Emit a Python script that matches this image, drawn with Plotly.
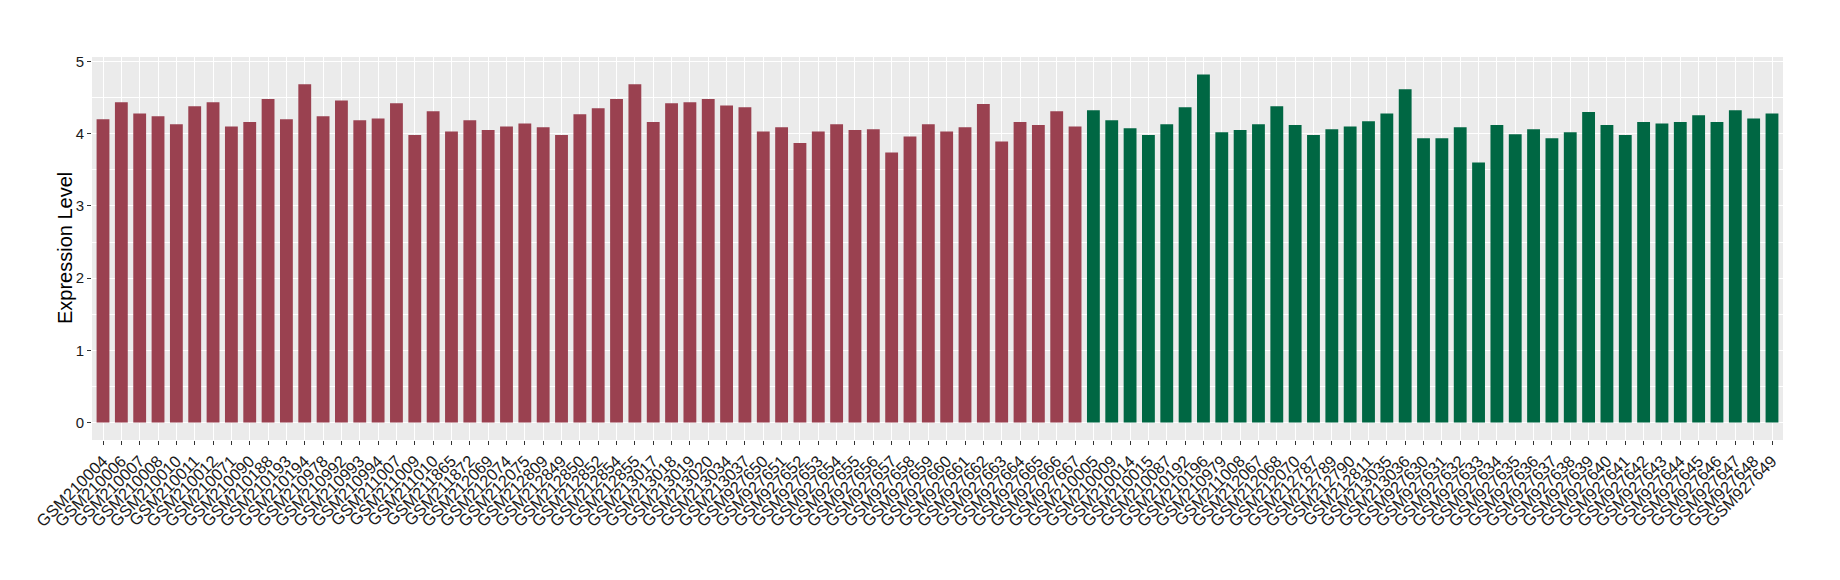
import plotly.graph_objects as go

group_a_samples = [
    "GSM210004", "GSM210006", "GSM210007", "GSM210008", "GSM210010", "GSM210011",
    "GSM210012", "GSM210071", "GSM210090", "GSM210188", "GSM210193", "GSM210194",
    "GSM210978", "GSM210992", "GSM210993", "GSM210994", "GSM211007", "GSM211009",
    "GSM211010", "GSM211865", "GSM211872", "GSM212069", "GSM212074", "GSM212075",
    "GSM212809", "GSM212849", "GSM212850", "GSM212852", "GSM212854", "GSM212855",
    "GSM213017", "GSM213018", "GSM213019", "GSM213020", "GSM213034", "GSM213037",
    "GSM927650", "GSM927651", "GSM927652", "GSM927653", "GSM927654", "GSM927655",
    "GSM927656", "GSM927657", "GSM927658", "GSM927659", "GSM927660", "GSM927661",
    "GSM927662", "GSM927663", "GSM927664", "GSM927665", "GSM927666", "GSM927667",
]
group_a_values = [
    4.20, 4.435, 4.28, 4.24, 4.13, 4.38, 4.435, 4.10, 4.16, 4.48, 4.20, 4.685,
    4.24, 4.46, 4.185, 4.21, 4.42, 3.98, 4.31, 4.03, 4.185, 4.05, 4.10, 4.14,
    4.09, 3.98, 4.27, 4.35, 4.48, 4.685, 4.16, 4.42, 4.435, 4.48, 4.39, 4.365,
    4.03, 4.09, 3.87, 4.03, 4.13, 4.05, 4.06, 3.74, 3.96, 4.13, 4.03, 4.09,
    4.41, 3.89, 4.16, 4.12, 4.31, 4.10,
]

group_b_samples = [
    "GSM210005", "GSM210009", "GSM210014", "GSM210015", "GSM210087", "GSM210192",
    "GSM210196", "GSM210979", "GSM211008", "GSM212067", "GSM212068", "GSM212070",
    "GSM212787", "GSM212789", "GSM212790", "GSM212811", "GSM213035", "GSM213036",
    "GSM927630", "GSM927631", "GSM927632", "GSM927633", "GSM927634", "GSM927635",
    "GSM927636", "GSM927637", "GSM927638", "GSM927639", "GSM927640", "GSM927641",
    "GSM927642", "GSM927643", "GSM927644", "GSM927645", "GSM927646", "GSM927647",
    "GSM927648", "GSM927649",
]
group_b_values = [
    4.325, 4.185, 4.075, 3.98, 4.13, 4.365, 4.82, 4.02, 4.05, 4.13, 4.38, 4.12,
    3.98, 4.06, 4.10, 4.17, 4.28, 4.615, 3.935, 3.935, 4.09, 3.60, 4.12, 3.99,
    4.06, 3.935, 4.02, 4.30, 4.12, 3.98, 4.16, 4.14, 4.16, 4.255, 4.16, 4.325,
    4.21, 4.28,
]

y_title = "Expression Level"
color_a = "#9A4150"
color_b = "#006743"

all_samples = group_a_samples + group_b_samples
n = len(all_samples)

fig = go.Figure()
fig.add_trace(go.Bar(x=group_a_samples, y=group_a_values, marker_color=color_a,
                     marker_line_width=0, showlegend=False))
fig.add_trace(go.Bar(x=group_b_samples, y=group_b_values, marker_color=color_b,
                     marker_line_width=0, showlegend=False))

ymax = max(group_a_values + group_b_values)
fig.update_layout(
    width=1832, height=572,
    margin=dict(l=84, r=57, t=49, b=140),
    paper_bgcolor="white",
    plot_bgcolor="#EBEBEB",
    bargap=0.3,
    barmode="overlay",
    font=dict(family="Liberation Sans, Arial, sans-serif", color="#1a1a1a"),
)
fig.update_xaxes(
    type="category",
    categoryorder="array", categoryarray=all_samples,
    range=[-0.6, n - 0.4],
    tickmode="linear", tick0=0, dtick=1,
    tickangle=-45,
    tickfont=dict(size=16.5, color="#1a1a1a"),
    ticks="outside", ticklen=4, tickcolor="#333333", tickwidth=1,
    showgrid=True, gridcolor="white", gridwidth=1.2,
    showline=False, zeroline=False,
    automargin=False,
)
fig.update_yaxes(
    range=[-0.05 * ymax, ymax * 1.05],
    tickvals=[0, 1, 2, 3, 4, 5],
    tickfont=dict(size=15, color="#1a1a1a"),
    ticks="outside", ticklen=4, tickcolor="#333333", tickwidth=1,
    showgrid=True, gridcolor="white", gridwidth=1.2,
    minor=dict(dtick=0.5, tick0=0, showgrid=True, gridcolor="white", gridwidth=0.6, ticks=""),
    zeroline=False, showline=False,
    automargin=False,
)
fig.add_annotation(
    text=y_title, textangle=-90, showarrow=False,
    xref="paper", yref="paper", x=0, y=0.5, xanchor="center", yanchor="middle",
    xshift=-27.5, font=dict(size=20, color="#000000"),
)

fig.write_html("out.html")
